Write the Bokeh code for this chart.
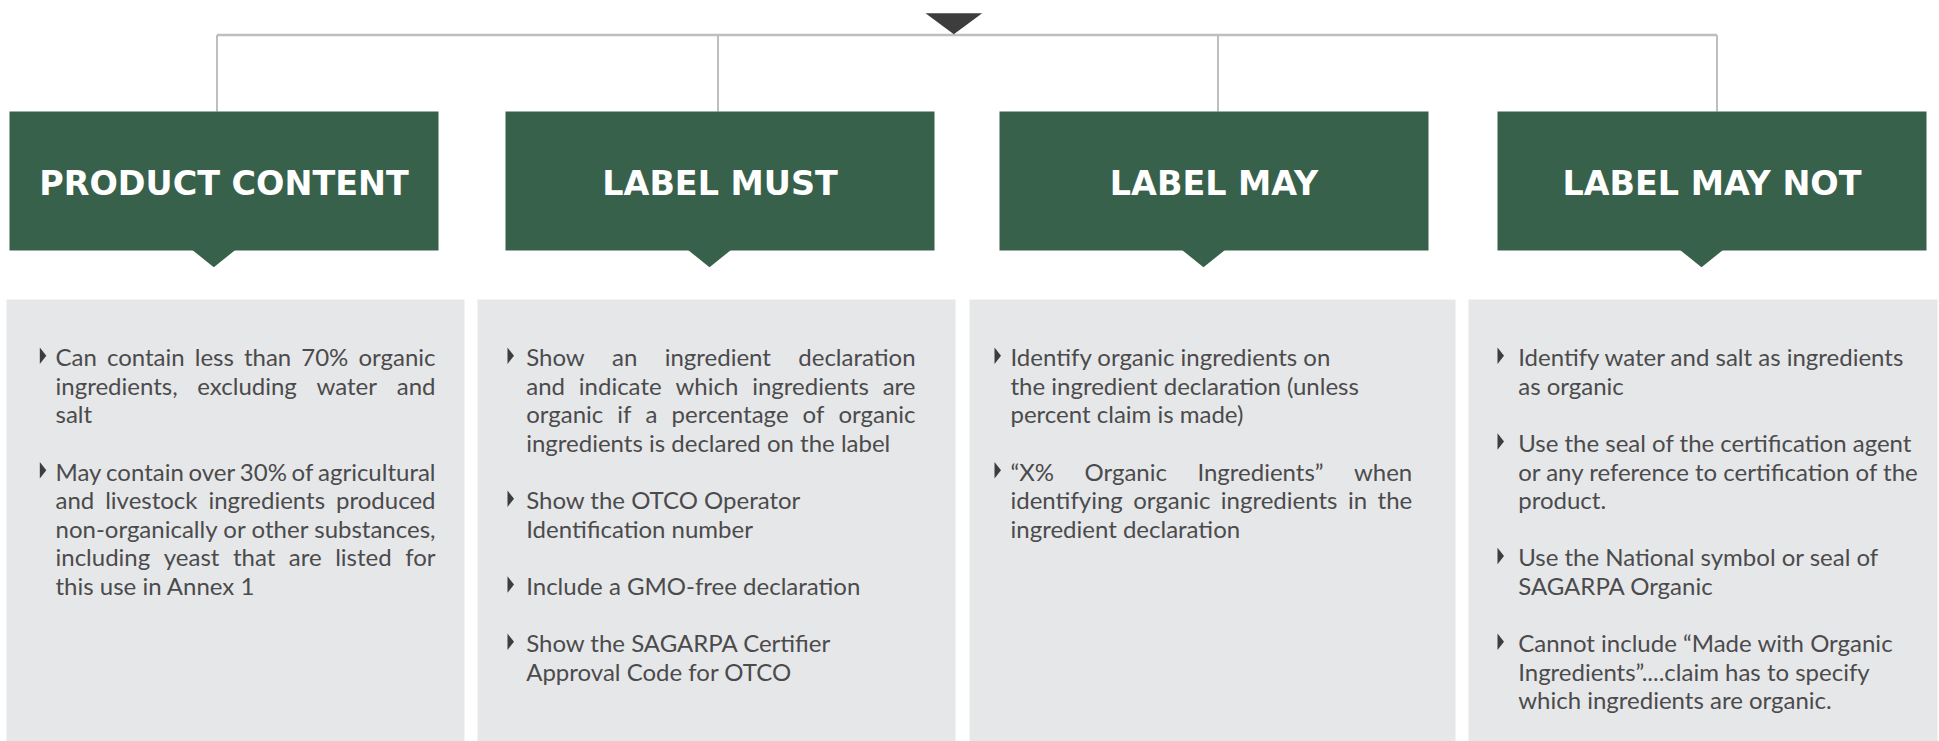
import glob
import os
from bokeh.plotting import figure
from bokeh.models import Range1d, ColumnDataSource
from bokeh.core.properties import value
from bokeh.embed import file_html
from bokeh.resources import INLINE

# ---------------- content ----------------
titles = ["PRODUCT CONTENT", "LABEL MUST", "LABEL MAY", "LABEL MAY NOT"]

col1 = [
    ["Can contain less than 70% organic",
     "ingredients, excluding water and",
     "salt"],
    ["May contain over 30% of agricultural",
     "and livestock ingredients produced",
     "non-organically or other substances,",
     "including yeast that are listed for",
     "this use in Annex 1"],
]
col2 = [
    ["Show an ingredient declaration",
     "and indicate which ingredients are",
     "organic if a percentage of organic",
     "ingredients is declared on the label"],
    ["Show the OTCO Operator",
     "Identification number"],
    ["Include a GMO-free declaration"],
    ["Show the SAGARPA Certifier",
     "Approval Code for OTCO"],
]
col3 = [
    ["Identify organic ingredients on",
     "the ingredient declaration (unless",
     "percent claim is made)"],
    ["\u201cX% Organic Ingredients\u201d when",
     "identifying organic ingredients in the",
     "ingredient declaration"],
]
col4 = [
    ["Identify water and salt as ingredients",
     "as organic"],
    ["Use the seal of the certification agent",
     "or any reference to certification of the",
     "product."],
    ["Use the National symbol or seal of",
     "SAGARPA Organic"],
    ["Cannot include \u201cMade with Organic",
     "Ingredients\u201d....claim has to specify",
     "which ingredients are organic."],
]
columns = [col1, col2, col3, col4]
justified = [[True, True], [True, False, False, False], [False, True], [False, False, False, False]]

# ---------------- layout ----------------
X0, X1, Y0, Y1 = 0, 1939, 0, 741
green_left = [9, 505, 999, 1497]
green_w = 429
green_top, green_bot = 111, 250
conn_x = [216.5, 717.5, 1217.5, 1716.5]
conn_y = 34.5
ptr_tip = [213.3, 709, 1203, 1701]
grey_left = [6, 477, 969, 1468]
grey_right = [464, 955, 1455, 1937]
grey_top = 299
text_left = [55, 525.7, 1010, 1517.7]
text_right = [435, 915, 1411.7, 1920]
bullet_left = [39.3, 507, 994, 1497]
base0 = 364.5
lh = 28.6
BODY_SIZE = 24
HEAD_SIZE = 34
BASE_FIX = 0.35  # empirical shift of rendered alphabetic baseline (in em)

GREEN = "#38614b"
GREY_BG = "#e6e7e8"
LINE = "#bcbec0"
DARK = "#3d3d3d"
TEXT = "#4b4b4d"


def find_font(names):
    dirs = ["/usr/share/fonts", "/usr/local/share/fonts",
            os.path.expanduser("~/.fonts"), os.path.expanduser("~/.local/share/fonts")]
    for n in names:
        for d in dirs:
            hits = glob.glob(os.path.join(d, "**", n), recursive=True)
            if hits:
                return hits[0]
    return None


BODY_FONT = None
try:
    from PIL import ImageFont
    fp = find_font(["Lato-Regular.ttf"])
    if fp:
        BODY_FONT = ImageFont.truetype(fp, BODY_SIZE)
    hp = find_font(["DejaVuSans-Bold.ttf"])
    if hp:
        hf = ImageFont.truetype(hp, 40)
        w40 = hf.getlength("PRODUCT CONTENT")
        HEAD_SIZE = max(30, min(38, round(40 * 370 / w40, 1)))
except Exception:
    pass


def tw(s):
    if BODY_FONT is not None:
        return BODY_FONT.getlength(s)
    return len(s) * BODY_SIZE * 0.48


p = figure(width=X1 - X0, height=Y1 - Y0, x_range=Range1d(X0, X1), y_range=Range1d(Y1, Y0),
           output_backend="svg", toolbar_location=None, x_axis_type=None, y_axis_type=None,
           min_border=0, background_fill_color="white", border_fill_color="white")
p.outline_line_color = None
p.grid.visible = False

# connectors
p.segment(x0=[conn_x[0]], y0=[conn_y], x1=[conn_x[-1]], y1=[conn_y], line_color=LINE, line_width=2.5)
p.segment(x0=conn_x, y0=[conn_y] * 4, x1=conn_x, y1=[green_top] * 4, line_color=LINE, line_width=2)
p.patch(x=[925, 981.7, 953.3], y=[12.7, 12.7, 33.8], fill_color=DARK, line_color=None)

# grey panels
p.quad(left=grey_left, right=grey_right, top=[grey_top] * 4, bottom=[745] * 4,
       fill_color=GREY_BG, line_color=None)

# green header boxes + pointers
p.quad(left=green_left, right=[g + green_w for g in green_left], top=[green_top] * 4,
       bottom=[green_bot] * 4, fill_color=GREEN, line_color=None)
p.patches(xs=[[t - 21.5, t + 21.5, t] for t in ptr_tip],
          ys=[[green_bot - 0.5, green_bot - 0.5, 266.7] for _ in ptr_tip],
          fill_color=GREEN, line_color=None)
p.text(x=[g + green_w / 2 for g in green_left], y=[195 - BASE_FIX * HEAD_SIZE] * 4, text=titles,
       text_font=value("DejaVu Sans"), text_font_style="bold", text_font_size=f"{HEAD_SIZE}px",
       text_color="white", text_align="center", text_baseline="alphabetic")

# body texts
tx, ty, tt = [], [], []
bxs, bys = [], []
for c, paras in enumerate(columns):
    k = 0
    for pi, para in enumerate(paras):
        yb = base0 + k * lh
        bl = bullet_left[c]
        bxs.append([bl, bl, bl + 6.5])
        bys.append([yb - 17.5, yb - 1, yb - 9.25])
        for li, line in enumerate(para):
            y = base0 + k * lh - BASE_FIX * BODY_SIZE
            words = line.split(" ")
            if justified[c][pi] and li < len(para) - 1 and len(words) > 1:
                widths = [tw(w) for w in words]
                gap = (text_right[c] - text_left[c] - sum(widths)) / (len(words) - 1)
                x = text_left[c]
                for w, wd in zip(words, widths):
                    tx.append(x)
                    ty.append(y)
                    tt.append(w)
                    x += wd + gap
            else:
                tx.append(text_left[c])
                ty.append(y)
                tt.append(line)
            k += 1
        k += 1

p.patches(xs=bxs, ys=bys, fill_color=DARK, line_color=None)
src = ColumnDataSource(dict(x=tx, y=ty, text=tt))
p.text(x="x", y="y", text="text", source=src, text_font=value("Lato"),
       text_font_size=f"{BODY_SIZE}px", text_color=TEXT, text_align="left",
       text_baseline="alphabetic")

open("out.html", "w").write(file_html(p, INLINE))
